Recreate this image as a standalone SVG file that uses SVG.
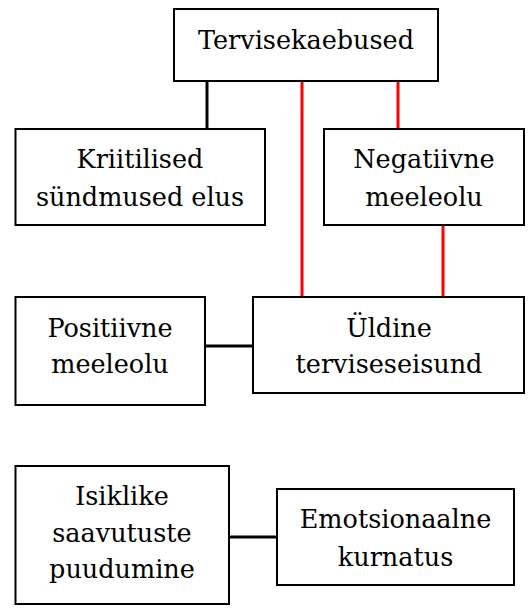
<svg xmlns="http://www.w3.org/2000/svg" width="528" height="608" viewBox="0 0 528 608">
<style>
.box{fill:#fff;stroke:#000;stroke-width:2}
text{font-family:'DejaVu Serif', serif;font-size:25.5px;fill:#000;text-anchor:middle}
.k{stroke:#000;stroke-width:3;fill:none}
.r{stroke:#ff0000;stroke-width:3;fill:none}
</style>
<rect width="528" height="608" fill="#fff"/>
<g id="connectors">
<line class="k" x1="207" y1="81" x2="207" y2="129"/>
<line class="r" x1="302" y1="81" x2="302" y2="297"/>
<line class="r" x1="398" y1="81" x2="398" y2="129"/>
<line class="r" x1="443" y1="225" x2="443" y2="297"/>
<line class="k" x1="205" y1="346" x2="253" y2="346"/>
<line class="k" x1="229" y1="537" x2="277" y2="537"/>
</g>
<g id="tervisekaebused">
<rect class="box" x="174" y="9" width="264" height="72"/>
<text x="306" y="49">Tervisekaebused</text>
</g>
<g id="kriitilised">
<rect class="box" x="15.5" y="129" width="249.5" height="96"/>
<text x="140" y="168">Kriitilised</text>
<text x="140" y="206">sündmused elus</text>
</g>
<g id="negatiivne">
<rect class="box" x="324" y="129" width="200" height="96"/>
<text x="424" y="168">Negatiivne</text>
<text x="424" y="206">meeleolu</text>
</g>
<g id="positiivne">
<rect class="box" x="15.5" y="297" width="189.5" height="108"/>
<text x="110" y="337">Positiivne</text>
<text x="110" y="373">meeleolu</text>
</g>
<g id="yldine">
<rect class="box" x="253" y="297" width="271" height="96"/>
<text x="389" y="337">Üldine</text>
<text x="389" y="373">terviseseisund</text>
</g>
<g id="isiklike">
<rect class="box" x="15.5" y="466" width="213.5" height="138"/>
<text x="122" y="505">Isiklike</text>
<text x="122" y="542">saavutuste</text>
<text x="122" y="578">puudumine</text>
</g>
<g id="emotsionaalne">
<rect class="box" x="277" y="489" width="237" height="96"/>
<text x="395.5" y="528">Emotsionaalne</text>
<text x="395.5" y="566">kurnatus</text>
</g>
</svg>
